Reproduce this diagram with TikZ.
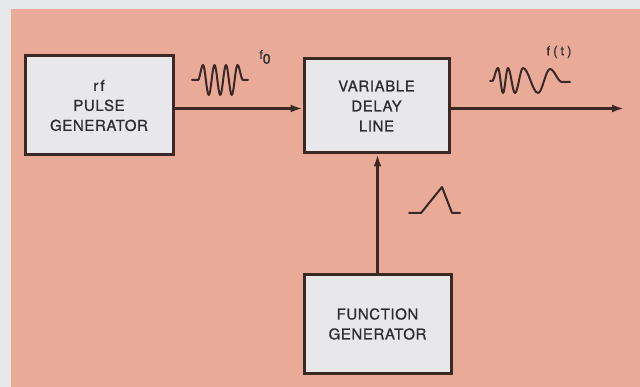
\documentclass[tikz,border=0pt]{standalone}
\usepackage{fontspec}
\setmainfont{TeX Gyre Heros}[FakeBold=0.8, LetterSpace=4]
\usetikzlibrary{arrows.meta}
\definecolor{outerbg}{RGB}{230,231,233}
\definecolor{salmon}{RGB}{234,170,152}
\definecolor{boxfill}{RGB}{232,232,234}
\definecolor{ink}{RGB}{58,40,36}
\definecolor{txt}{RGB}{45,45,48}
\begin{document}
\begin{tikzpicture}[x=1pt,y=-1pt,
  blockbox/.style={draw=ink, line width=3pt, fill=boxfill, inner sep=0pt, align=center,
    font=\fontsize{15}{20}\selectfont, text=txt},
  conn/.style={draw=ink, line width=2.6pt},
  arr/.style={conn, -{Latex[length=12pt,width=8pt]}},
  wave/.style={draw=ink, line width=2pt, line join=round, line cap=round},
  lbl/.style={text=txt, inner sep=0pt}]
\fill[outerbg] (0,0) rectangle (640,387);
\fill[salmon] (11,9) rectangle (640,387);
\useasboundingbox (0,0) rectangle (640,387);

\node[blockbox, minimum width=148pt, minimum height=99pt] (pg) at (99,105.5) {r\kern2pt f\\PULSE\\GENERATOR};
\node[blockbox, minimum width=145pt, minimum height=94pt] (vdl) at (376.5,106) {VARIABLE\\DELAY\\LINE};
\node[blockbox, minimum width=147pt, minimum height=98pt] (fg) at (377.5,324) {FUNCTION\\GENERATOR};
\coordinate (outend) at (624,108.5);

\draw[arr] ([yshift=-3pt]pg.east) -- ([yshift=-3pt]pg.east -| vdl.west);
\draw[arr] ([yshift=-2.5pt]vdl.east) -- (outend);
\draw[arr] (fg.north) -- (fg.north |- vdl.south);

% rf burst
\draw[wave] (192,80) -- (198,80)
  .. controls (199.8,80) and (201.2,65) .. (203,65)
  .. controls (205.07,65) and (206.68,95) .. (208.75,95)
  .. controls (210.82,95) and (212.43,65) .. (214.5,65)
  .. controls (216.57,65) and (218.18,95) .. (220.25,95)
  .. controls (222.32,95) and (223.93,65) .. (226,65)
  .. controls (228.07,65) and (229.68,95) .. (231.75,95)
  .. controls (233.82,95) and (235.43,65) .. (237.5,65)
  .. controls (239.48,65) and (241.02,80) .. (243,80)
  -- (248,80);
\node[lbl] (f0) at (265,57) {{\fontsize{12}{12}\selectfont f}\raisebox{-5pt}{\fontsize{14}{14}\selectfont 0}};

% output waveform
\draw[wave] (490,81) -- (492,81)
  .. controls (494.16,81) and (495.84,68) .. (498,68)
  .. controls (499.8,68) and (501.2,93) .. (503,93)
  .. controls (504.8,93) and (506.2,68) .. (508,68)
  .. controls (510.52,68) and (512.48,93) .. (515,93)
  .. controls (517.88,93) and (520.12,68) .. (523,68)
  .. controls (528.4,68) and (532.6,93) .. (538,93)
  .. controls (542.32,93) and (545.68,69) .. (550,69)
  .. controls (554.32,69) and (557.68,82) .. (562,82)
  -- (570,82);
\node[lbl] (ft) at (559,52) {\fontsize{13}{13}\selectfont f\kern3pt(\kern3pt t\kern3pt)};

% triangular control pulse
\draw[wave] (409,213) -- (421,213) -- (442,187) -- (452,213) -- (460,213);
\end{tikzpicture}
\end{document}
